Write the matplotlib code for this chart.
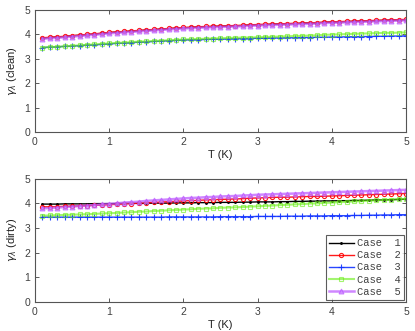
import numpy as np
import matplotlib
matplotlib.use("Agg")
import matplotlib.pyplot as plt

T = [round(0.1 * i, 1) for i in range(1, 51)]

clean_case1 = [3.84,3.86,3.88,3.90,3.93,3.95,3.98,4.00,4.03,4.06,
               4.08,4.10,4.12,4.14,4.16,4.18,4.20,4.22,4.24,4.26,
               4.27,4.29,4.30,4.31,4.32,4.33,4.34,4.35,4.37,4.38,
               4.39,4.40,4.41,4.42,4.43,4.44,4.45,4.46,4.48,4.49,
               4.50,4.51,4.52,4.53,4.54,4.55,4.56,4.57,4.58,4.59]
clean_case2 = [3.85,3.87,3.89,3.91,3.94,3.96,3.99,4.01,4.04,4.07,
               4.09,4.11,4.13,4.15,4.17,4.19,4.21,4.23,4.25,4.27,
               4.28,4.30,4.31,4.32,4.33,4.34,4.35,4.36,4.38,4.39,
               4.40,4.41,4.42,4.43,4.44,4.45,4.46,4.47,4.49,4.50,
               4.51,4.52,4.53,4.54,4.55,4.56,4.57,4.58,4.59,4.60]
clean_case3 = [3.45,3.47,3.48,3.50,3.51,3.53,3.55,3.56,3.58,3.60,
               3.62,3.63,3.65,3.67,3.68,3.70,3.71,3.73,3.74,3.76,
               3.77,3.77,3.78,3.79,3.79,3.80,3.81,3.81,3.82,3.83,
               3.83,3.84,3.84,3.85,3.85,3.86,3.86,3.87,3.87,3.88,
               3.88,3.89,3.89,3.90,3.90,3.91,3.91,3.92,3.92,3.93]
clean_case4 = [3.45,3.47,3.48,3.50,3.52,3.54,3.56,3.58,3.60,3.62,
               3.64,3.65,3.67,3.69,3.70,3.72,3.73,3.75,3.76,3.78,
               3.79,3.80,3.81,3.82,3.83,3.84,3.85,3.86,3.86,3.87,
               3.88,3.89,3.90,3.91,3.92,3.93,3.94,3.95,3.97,3.98,
               3.99,4.00,4.01,4.02,4.03,4.04,4.05,4.05,4.06,4.07]
clean_case5 = [3.81,3.83,3.85,3.87,3.90,3.92,3.95,3.97,4.00,4.03,
               4.05,4.07,4.09,4.11,4.13,4.15,4.17,4.19,4.21,4.23,
               4.24,4.26,4.27,4.28,4.29,4.30,4.31,4.32,4.34,4.35,
               4.36,4.37,4.38,4.39,4.40,4.41,4.42,4.43,4.45,4.46,
               4.47,4.48,4.49,4.50,4.51,4.52,4.53,4.54,4.55,4.56]

dirty_case1 = [3.97,3.97,3.97,3.98,3.98,3.98,3.98,3.99,3.99,3.99,
               3.99,4.00,4.00,4.00,4.00,4.01,4.01,4.01,4.02,4.02,
               4.02,4.03,4.03,4.03,4.04,4.04,4.04,4.05,4.05,4.06,
               4.06,4.06,4.07,4.07,4.08,4.08,4.09,4.09,4.10,4.10,
               4.11,4.11,4.12,4.12,4.13,4.14,4.14,4.15,4.16,4.17]
dirty_case2 = [3.86,3.86,3.87,3.88,3.89,3.90,3.91,3.92,3.93,3.95,
               3.96,3.98,3.99,4.01,4.02,4.04,4.05,4.07,4.08,4.10,
               4.11,4.12,4.14,4.15,4.16,4.17,4.18,4.19,4.21,4.22,
               4.23,4.24,4.25,4.25,4.26,4.27,4.28,4.28,4.29,4.30,
               4.31,4.32,4.33,4.34,4.35,4.36,4.37,4.38,4.39,4.40]
dirty_case3 = [3.44,3.44,3.44,3.44,3.44,3.44,3.44,3.44,3.44,3.44,
               3.44,3.44,3.44,3.44,3.44,3.44,3.44,3.45,3.45,3.45,
               3.45,3.45,3.45,3.45,3.46,3.46,3.46,3.46,3.46,3.47,
               3.47,3.47,3.47,3.48,3.48,3.48,3.49,3.49,3.49,3.50,
               3.50,3.50,3.51,3.51,3.52,3.52,3.53,3.53,3.54,3.54]
dirty_case4 = [3.50,3.51,3.52,3.53,3.54,3.55,3.56,3.57,3.59,3.60,
               3.61,3.63,3.64,3.66,3.67,3.69,3.70,3.72,3.73,3.75,
               3.76,3.78,3.79,3.80,3.82,3.83,3.84,3.85,3.87,3.88,
               3.90,3.91,3.93,3.94,3.96,3.97,3.99,4.00,4.02,4.03,
               4.05,4.06,4.08,4.09,4.11,4.12,4.14,4.15,4.17,4.18]
dirty_case5 = [3.80,3.81,3.83,3.85,3.87,3.89,3.91,3.93,3.96,3.98,
               4.00,4.03,4.05,4.07,4.10,4.12,4.14,4.16,4.18,4.20,
               4.22,4.23,4.25,4.26,4.28,4.29,4.30,4.32,4.33,4.35,
               4.36,4.37,4.38,4.39,4.40,4.41,4.42,4.43,4.44,4.45,
               4.46,4.47,4.48,4.49,4.50,4.51,4.52,4.53,4.54,4.55]

case_labels = ["Case  1", "Case  2", "Case  3", "Case  4", "Case  5"]
y_labels = [r"$\gamma_\lambda$ (clean)", r"$\gamma_\lambda$ (dirty)"]
x_label = "T (K)"
x_ticks = [0, 1, 2, 3, 4, 5]
y_ticks = [0, 1, 2, 3, 4, 5]

styles = [
    dict(color="#000000", marker=".", markersize=2.5, lw=1.0, alpha=1.0, mfc="#000000"),
    dict(color="#ff0000", marker="o", markersize=3, lw=1.0, alpha=0.9, mfc="none"),
    dict(color="#1133ff", marker="+", markersize=4, lw=1.0, alpha=0.9, mfc="none"),
    dict(color="#66ee11", marker="s", markersize=3, lw=1.5, alpha=0.6, mfc="none"),
    dict(color="#bb55ff", marker="^", markersize=3.5, lw=1.8, alpha=0.7, mfc="#cc88ff"),
]

plt.rcParams["font.family"] = ["Liberation Sans", "DejaVu Sans"]
plt.rcParams["mathtext.fontset"] = "dejavusans"
text_color = "#404040"

fig = plt.figure(figsize=(4.15, 3.31), dpi=100)
ax1 = fig.add_axes([0.0843, 0.601, 0.894, 0.370])
ax2 = fig.add_axes([0.0843, 0.088, 0.894, 0.372])

datasets = [
    [clean_case1, clean_case2, clean_case3, clean_case4, clean_case5],
    [dirty_case1, dirty_case2, dirty_case3, dirty_case4, dirty_case5],
]

for ax, data, ylab in zip([ax1, ax2], datasets, y_labels):
    for ys, st, lab in zip(data, styles, case_labels):
        ax.plot(T, ys, color=st["color"], marker=st["marker"], markersize=st["markersize"],
                lw=st["lw"], alpha=st["alpha"], mfc=st["mfc"], mec=st["color"],
                mew=0.8, label=lab)
    ax.set_xlim(0, 5)
    ax.set_ylim(0, 5)
    ax.set_xticks(x_ticks)
    ax.set_yticks(y_ticks)
    ax.tick_params(direction="in", top=True, right=True, labelsize=7.5,
                   colors=text_color, length=3, width=0.6)
    for sp in ax.spines.values():
        sp.set_color("#555555")
        sp.set_linewidth(0.8)
    ax.set_xlabel(x_label, fontsize=8, color="#222222", labelpad=2)
    ax.set_ylabel(ylab, fontsize=8, color="#222222", labelpad=4)

leg = ax2.legend(loc="lower right", prop={"family": "Liberation Mono", "size": 7.5},
                 frameon=True, fancybox=False, edgecolor="#333333",
                 handlelength=2.4, borderpad=0.3, labelspacing=0.2,
                 handletextpad=0.3, borderaxespad=0.2)
leg.get_frame().set_linewidth(0.8)
for t in leg.get_texts():
    t.set_color(text_color)

fig.savefig("out.png", dpi=100)
